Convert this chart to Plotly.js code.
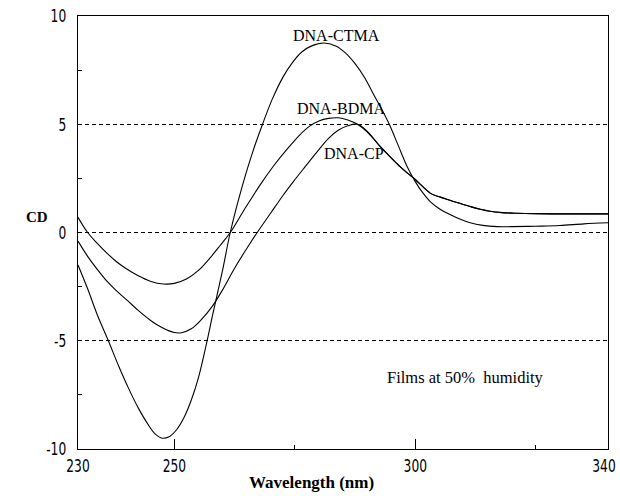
<!DOCTYPE html>
<html>
<head>
<meta charset="utf-8">
<script src="https://cdn.plot.ly/plotly-3.0.1.min.js"></script>
<style>
html,body{margin:0;padding:0;background:#fff;}
#chart{width:620px;height:496px;}
</style>
</head>
<body>
<div id="chart"></div>
<script>
// Wavelength (nm) and CD values
const ctmaX = [230, 232, 234, 236.3, 238.5, 240.5, 242.5, 244.5, 246, 247.5, 249, 250.5, 252, 253.5, 255, 256.5, 258, 260, 261.6, 264.3, 266.3, 268.3, 270.3, 272.6, 274.5, 276.5, 278.5, 281, 283.5, 285.5, 287.5, 289.5, 291.3, 293, 294.6, 296.5, 298.2, 300, 301.5, 303.1, 305, 307.3, 309.5, 311.4, 314, 317, 320, 325, 330, 335, 340];
const ctmaY = [-1.5, -2.6, -3.8, -5.0, -6.2, -7.2, -8.1, -8.85, -9.3, -9.5, -9.42, -9.1, -8.55, -7.75, -6.7, -5.3, -3.75, -1.75, 0, 2.3, 3.75, 5.0, 6.15, 7.2, 7.85, 8.35, 8.62, 8.75, 8.62, 8.3, 7.8, 7.15, 6.4, 5.7, 5.0, 4.0, 3.1, 2.35, 1.85, 1.43, 1.1, 0.82, 0.6, 0.45, 0.33, 0.27, 0.27, 0.29, 0.32, 0.4, 0.45];

const bdmaX = [230, 232, 234, 236, 238, 240.2, 242.5, 245, 247.7, 250, 252.5, 255, 257.5, 259.5, 261.6, 264.5, 267.8, 270.5, 273.4, 276, 278, 280, 282, 284, 286, 288, 290, 292.8, 295, 296.9, 298.5, 300, 303.1, 305, 307.3, 309.5, 311.4, 313.5, 315.5, 318, 321, 325, 330, 335, 340];
const bdmaY = [0.7, 0.0, -0.5, -0.95, -1.35, -1.7, -2.0, -2.25, -2.38, -2.35, -2.15, -1.75, -1.15, -0.6, 0, 1.05, 2.2, 3.05, 3.85, 4.5, 4.9, 5.15, 5.27, 5.3, 5.2, 5.0, 4.65, 3.95, 3.45, 3.03, 2.72, 2.45, 1.82, 1.65, 1.48, 1.33, 1.2, 1.07, 0.98, 0.92, 0.89, 0.87, 0.86, 0.86, 0.86];

const cpX = [230, 232, 234, 236, 238, 240.3, 242.5, 245, 247.5, 250, 251.5, 253.5, 255.5, 257.9, 260, 262.5, 265, 267.2, 270, 272.5, 274.7, 277, 279.7, 282, 284, 286, 288, 290, 292.8, 295, 296.9, 298.5, 300, 303.1, 305, 307.3, 309.5, 311.4, 313.5, 315.5, 318, 321, 325, 330, 335, 340];
const cpY = [-0.4, -1.1, -1.7, -2.25, -2.7, -3.15, -3.6, -4.05, -4.4, -4.62, -4.63, -4.45, -4.05, -3.4, -2.65, -1.65, -0.75, 0, 0.9, 1.7, 2.35, 3.0, 3.75, 4.35, 4.72, 4.93, 5.0, 4.68, 3.95, 3.45, 3.03, 2.72, 2.45, 1.82, 1.65, 1.48, 1.33, 1.2, 1.07, 0.98, 0.92, 0.89, 0.87, 0.86, 0.86, 0.86];

const xTickVals = [230, 250, 300, 340];
const xTickText = ['230', '250', '300', '340'];
const xMinorVals = [275, 325];
const yTickVals = [-10, -5, 0, 5, 10];
const yTickText = ['-10', '-5', '0', '5', '10'];
const yMinorVals = [-7.5, -2.5, 2.5, 7.5];

const seriesNames = ['DNA-CTMA', 'DNA-BDMA', 'DNA-CP'];
const footnote = 'Films at 50%\u00a0\u00a0humidity';

const lineStyle = {color: '#000', width: 1.1, shape: 'spline', smoothing: 1};
const traces = [
  {x: ctmaX, y: ctmaY, name: seriesNames[0], mode: 'lines', line: lineStyle},
  {x: bdmaX, y: bdmaY, name: seriesNames[1], mode: 'lines', line: lineStyle},
  {x: cpX, y: cpY, name: seriesNames[2], mode: 'lines', line: lineStyle}
];

const tickFont = {family: '"DejaVu Sans", sans-serif', size: 18, color: '#000'};
const serif = '"Liberation Serif", "Times New Roman", serif';

function label(x, y, xref, yref, text, size, xanchor) {
  return {x: x, y: y, xref: xref, yref: yref, text: text, showarrow: false,
          xanchor: xanchor || 'center', yanchor: 'middle',
          font: {family: serif, size: size, color: '#000'}};
}

const layout = {
  width: 620, height: 496,
  margin: {l: 78, r: 12, t: 16, b: 47},
  paper_bgcolor: '#fff', plot_bgcolor: '#fff',
  showlegend: false,
  xaxis: {
    range: [230, 340], tickvals: xTickVals, ticktext: xTickText,
    ticks: 'inside', ticklen: 10, tickwidth: 1, tickcolor: '#000',
    minor: {tickvals: xMinorVals, ticks: 'inside', ticklen: 4, tickcolor: '#000'},
    showgrid: false, zeroline: false,
    showline: true, linecolor: '#000', linewidth: 1.2, mirror: true,
    tickfont: tickFont, ticklabelstandoff: 0, ticklabeloverflow: 'allow'
  },
  yaxis: {
    range: [-10, 10], tickvals: yTickVals, ticktext: yTickText,
    ticks: '', showgrid: true, gridcolor: '#000', gridwidth: 1, griddash: '4px,3px',
    minor: {tickvals: yMinorVals, ticks: 'inside', ticklen: 4, tickcolor: '#000', showgrid: false},
    zeroline: false,
    showline: true, linecolor: '#000', linewidth: 1.2, mirror: true,
    tickfont: tickFont, ticklabelstandoff: 7, ticklabeloverflow: 'allow'
  },
  annotations: [
    label(283.6, 9.12, 'x', 'y', seriesNames[0], 16),
    label(284.6, 5.75, 'x', 'y', seriesNames[1], 16),
    label(287.2, 3.67, 'x', 'y', seriesNames[2], 16),
    label(293.8, -6.72, 'x', 'y', footnote, 16.5, 'left'),
    label(-0.078, 0.72, 'paper', 'y', '<b>CD</b>', 15),
    label(278.4, -0.078, 'x', 'paper', '<b>Wavelength (nm)</b>', 17)
  ]
};

// Narrow the tick label glyphs to mimic the condensed face of the original
function condenseTicks() {
  const texts = document.querySelectorAll('#chart .xtick text, #chart .ytick text');
  texts.forEach(function (t) {
    const w = t.getComputedTextLength();
    if (w > 0) {
      t.setAttribute('textLength', (w * 0.68).toFixed(2));
      t.setAttribute('lengthAdjust', 'spacingAndGlyphs');
    }
    if (t.textContent === xTickText[xTickText.length - 1] && t.closest('.xtick')) {
      t.setAttribute('dx', '-4');
    }
  });
}

Plotly.newPlot('chart', traces, layout, {displayModeBar: false, staticPlot: true}).then(condenseTicks);
</script>
</body>
</html>
